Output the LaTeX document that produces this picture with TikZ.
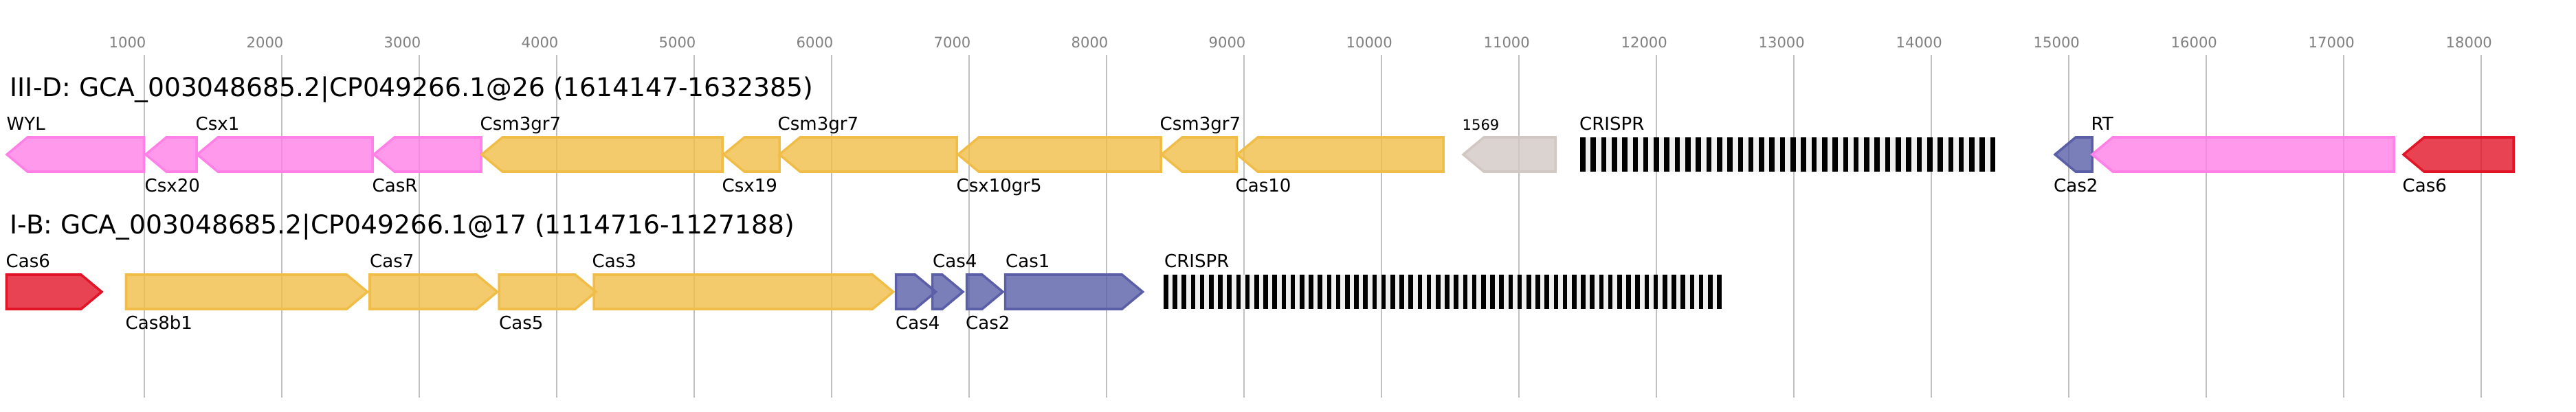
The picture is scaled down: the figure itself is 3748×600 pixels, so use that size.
\documentclass[tikz,border=0pt]{standalone}
\usepackage{fontspec}
\setmainfont{DejaVu Sans}
\usetikzlibrary{positioning}
\definecolor{caspink}{RGB}{255, 128, 230}
\definecolor{casyellow}{RGB}{240, 190, 72}
\definecolor{casblue}{RGB}{90, 95, 168}
\definecolor{casred}{RGB}{225, 20, 40}
\definecolor{casgrey}{RGB}{210, 200, 195}
\definecolor{gridgrey}{RGB}{192, 192, 192}
\definecolor{spacergrey}{RGB}{240, 240, 240}
\tikzstyle{gene} = [line width=1pt, line join=miter, fill opacity=0.8]
\tikzstyle{glabel} = [anchor=base west, inner sep=0pt, font=\fontsize{7.4}{8}\selectfont]
\tikzstyle{title} = [anchor=base west, inner sep=0pt, font=\fontsize{10.7}{12}\selectfont]
\tikzstyle{ticklabel} = [anchor=base west, inner sep=0pt, text=gray, font=\fontsize{6}{7}\selectfont]
\tikzstyle{gridline} = [draw=gridgrey, line width=0.45pt]
% gene pointing left: tip, end, centre, colour
\newcommand{\geneleft}[4]{\draw[gene, draw=#4, fill=#4] (#1,#2) -- (#1+30,#2-25) -- (#3,#2-25) -- (#3,#2+25) -- (#1+30,#2+25) -- cycle;}
% gene pointing right: start, tip, centre, colour
\newcommand{\generight}[4]{\draw[gene, draw=#4, fill=#4] (#1,#2-25) -- (#3-30,#2-25) -- (#3,#2) -- (#3-30,#2+25) -- (#1,#2+25) -- cycle;}

\begin{document}
\begin{tikzpicture}[x=0.01cm, y=-0.01cm]
    \useasboundingbox (0,0) rectangle (3748,600);

    % Scale
    \foreach \k in {1,...,18} {
        \draw[gridline] (10+200*\k,80) -- (10+200*\k,579);
        \node[ticklabel] (tick\k) at (10+200*\k-52,70) {\k000};
    }

    % III-D locus
    \node[title] (titleA) at (14,140) {III-D: GCA\_003048685.2|CP049266.1@26 (1614147-1632385)};
    \geneleft{10}{225}{209.5}{caspink}
    \geneleft{212}{225}{286}{caspink}
    \geneleft{287}{225}{542}{caspink}
    \geneleft{544}{225}{700}{caspink}
    \geneleft{701}{225}{1051}{casyellow}
    \geneleft{1053}{225}{1134}{casyellow}
    \geneleft{1134}{225}{1392}{casyellow}
    \geneleft{1394}{225}{1689}{casyellow}
    \geneleft{1690}{225}{1799}{casyellow}
    \geneleft{1800}{225}{2100}{casyellow}
    \geneleft{2129}{225}{2263}{casgrey}
    \fill[spacergrey] (2299,200) rectangle (2903,250);
    \foreach \i in {0,...,39} \fill[black] (2299+\i*15.3,200) rectangle ++(7.6,50);
    \geneleft{2990}{225}{3044}{casblue}
    \geneleft{3044}{225}{3483}{caspink}
    \geneleft{3497}{225}{3657}{casred}

    \node[glabel] (wyl) at (9,189.5) {WYL};
    \node[glabel] (csx20) at (210,279.5) {Csx20};
    \node[glabel] (csx1) at (284,189.5) {Csx1};
    \node[glabel] (casr) at (541,279.5) {CasR};
    \node[glabel] (csmA) at (698,189.5) {Csm3gr7};
    \node[glabel] (csx19) at (1050,279.5) {Csx19};
    \node[glabel] (csmB) at (1131,189.5) {Csm3gr7};
    \node[glabel] (csx10) at (1391,279.5) {Csx10gr5};
    \node[glabel] (csmC) at (1687,189.5) {Csm3gr7};
    \node[glabel] (cas10) at (1797,279.5) {Cas10};
    \node[glabel, font=\fontsize{6}{7}\selectfont] (orf) at (2127,189.5) {1569};
    \node[glabel] (crisprA) at (2297.5,189.5) {CRISPR};
    \node[glabel] (cas2A) at (2987.5,279.5) {Cas2};
    \node[glabel] (rt) at (3042,189.5) {RT};
    \node[glabel] (cas6A) at (3495,279.5) {Cas6};

    % I-B locus
    \node[title] (titleB) at (14,340) {I-B: GCA\_003048685.2|CP049266.1@17 (1114716-1127188)};
    \generight{9.5}{425}{148}{casred}
    \generight{183.5}{425}{534.5}{casyellow}
    \generight{538}{425}{723.5}{casyellow}
    \generight{726}{425}{867}{casyellow}
    \generight{864}{425}{1299.5}{casyellow}
    \generight{1303.5}{425}{1361.5}{casblue}
    \generight{1356.5}{425}{1401}{casblue}
    \generight{1406.5}{425}{1459}{casblue}
    \generight{1462.5}{425}{1662.5}{casblue}
    \fill[spacergrey] (1693,400) rectangle (2505,450);
    \foreach \i in {0,...,61} \fill[black] (1693+\i*13.2,400) rectangle ++(6.6,50);

    \node[glabel] (cas6B) at (8,389.5) {Cas6};
    \node[glabel] (cas8b1) at (182,479.5) {Cas8b1};
    \node[glabel] (cas7) at (537.5,389.5) {Cas7};
    \node[glabel] (cas5) at (725.5,479.5) {Cas5};
    \node[glabel] (cas3) at (861,389.5) {Cas3};
    \node[glabel] (cas4A) at (1302.5,479.5) {Cas4};
    \node[glabel] (cas4B) at (1356.5,389.5) {Cas4};
    \node[glabel] (cas2B) at (1404.5,479.5) {Cas2};
    \node[glabel] (cas1) at (1462.5,389.5) {Cas1};
    \node[glabel] (crisprB) at (1693.5,389.5) {CRISPR};
\end{tikzpicture}
\end{document}
